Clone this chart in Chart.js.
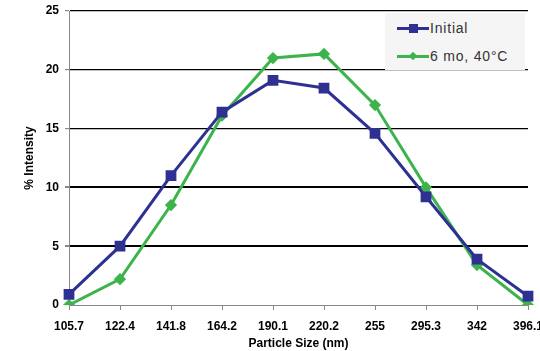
<!DOCTYPE html>
<html>
<head>
<meta charset="utf-8">
<script src="https://cdn.jsdelivr.net/npm/chart.js@4.4.0/dist/chart.umd.min.js"></script>
<style>
  html, body { margin: 0; padding: 0; background: #fff; }
  #wrap { position: relative; width: 540px; height: 351px; overflow: hidden; }
  #legend {
    position: absolute; left: 385px; top: 13px; width: 140px; height: 57px;
    background: #f5f5f5; font: 14px "Liberation Sans", Arial, sans-serif; color: #333; letter-spacing: 0.8px;
  }
  .item { position: absolute; left: 12px; height: 16px; line-height: 16px; white-space: nowrap; }
  .item span.line { display: inline-block; vertical-align: middle; width: 32px; height: 3px; position: relative; }
  .item span.mk { position: absolute; }
  .item span.txt { margin-left: 1px; vertical-align: middle; }
</style>
</head>
<body>
<div id="wrap">
  <canvas id="c" width="540" height="351"></canvas>
  <div id="legend"></div>
</div>
<script>
const sizes = ['105.7', '122.4', '141.8', '164.2', '190.1', '220.2', '255', '295.3', '342', '396.1'];
const initial = [0.9, 5.0, 11.0, 16.4, 19.1, 18.45, 14.6, 9.2, 3.9, 0.75];
const aged = [0.0, 2.2, 8.5, 16.1, 21.0, 21.35, 17.0, 10.0, 3.4, 0.0];
const yTicks = [0, 5, 10, 15, 20, 25];

const blue = '#2e3192';
const green = '#3cb44b';
const font = { family: '"Liberation Sans", Arial, sans-serif', size: 12, weight: 'bold' };

const ctx = document.getElementById('c').getContext('2d');
const chart = new Chart(ctx, {
  type: 'line',
  data: {
    labels: sizes,
    datasets: [{
      label: 'Initial',
      data: initial,
      borderColor: blue,
      backgroundColor: blue,
      borderWidth: 3,
      pointStyle: 'rect',
      pointRadius: 5.5,
      tension: 0
    }, {
      label: '6 mo, 40°C',
      data: aged,
      borderColor: green,
      backgroundColor: green,
      borderWidth: 3,
      pointStyle: 'rectRot',
      pointRadius: 4,
      tension: 0
    }]
  },
  options: {
    responsive: false,
    animation: false,
    layout: { padding: { left: 18, right: 12, top: 11, bottom: 0 } },
    plugins: { legend: { display: false }, tooltip: { enabled: false } },
    scales: {
      x: {
        offset: false,
        grid: { drawOnChartArea: false, tickLength: 5, tickColor: '#888' },
        border: { color: '#888', width: 1 },
        ticks: { color: '#000', font: font, maxRotation: 0, autoSkip: false, padding: 9 },
        title: { display: true, text: 'Particle Size (nm)', color: '#000', font: font, padding: { top: 0, bottom: 0 } },
        afterFit: s => { s.height = 46; s.paddingLeft = 0; s.paddingRight = 0; }
      },
      y: {
        min: 0, max: 25,
        afterBuildTicks: s => { s.ticks = yTicks.map(v => ({ value: v })); },
        grid: {
          color: c => c.tick.value === 0 ? 'rgba(0,0,0,0)' : '#000',
          lineWidth: c => (c.tick.value === 5 || c.tick.value === 10) ? 2 : 1.2,
          tickLength: 4, tickColor: '#888'
        },
        border: { color: '#888', width: 1 },
        ticks: { color: '#000', font: font, padding: 6 },
        title: { display: true, text: '% Intensity', color: '#000', font: font, padding: { bottom: 6 } },
        afterFit: s => { s.width = 51; s.paddingTop = 0; s.paddingBottom = 0; }
      }
    }
  }
});

// legend built from the datasets
const lg = document.getElementById('legend');
chart.data.datasets.forEach((ds, i) => {
  const it = document.createElement('div');
  it.className = 'item';
  it.style.top = (i === 0 ? 6 : 34) + 'px';
  const mk = ds.pointStyle === 'rect'
    ? `<span class="mk" style="left:12px;top:-3px;width:9px;height:9px;background:${ds.borderColor}"></span>`
    : `<span class="mk" style="left:13px;top:-2px;width:6px;height:6px;background:${ds.borderColor};transform:rotate(45deg)"></span>`;
  it.innerHTML = `<span class="line" style="background:${ds.borderColor}">${mk}</span><span class="txt">${ds.label}</span>`;
  lg.appendChild(it);
});
</script>
</body>
</html>
